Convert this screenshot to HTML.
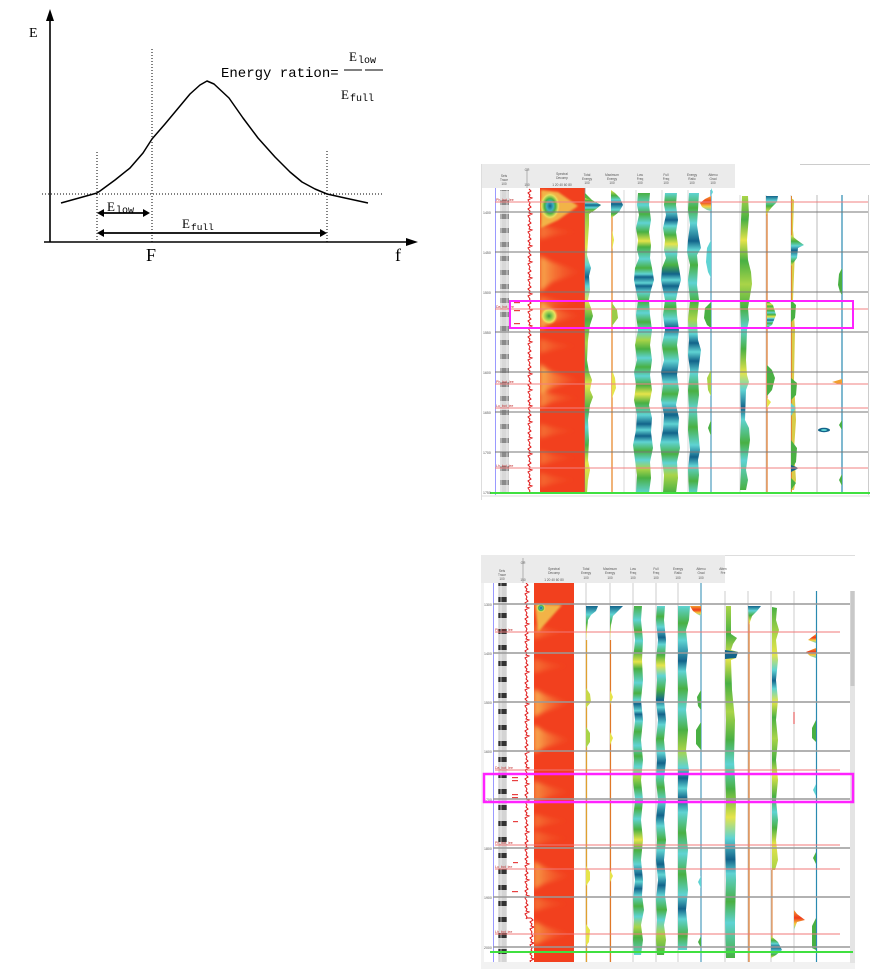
<!DOCTYPE html>
<html><head><meta charset="utf-8"><style>
html,body{margin:0;padding:0;background:#fff;}
svg{display:block;}
</style></head><body>
<svg width="874" height="969" viewBox="0 0 874 969" xmlns="http://www.w3.org/2000/svg">
<defs>
<filter id="bl" x="-20%" y="-50%" width="140%" height="200%"><feGaussianBlur stdDeviation="2"/></filter>
<filter id="bl2" x="-20%" y="-50%" width="140%" height="200%"><feGaussianBlur stdDeviation="1"/></filter>
<clipPath id="sp1"><rect x="540" y="188" width="45" height="305"/></clipPath>
<clipPath id="sp2"><rect x="534" y="583" width="40" height="379"/></clipPath>
<clipPath id="rc2"><rect x="515" y="583" width="25" height="379"/></clipPath>
<linearGradient id="streak" x1="0" y1="0" x2="1" y2="0">
<stop offset="0" stop-color="#f8d060" stop-opacity="1"/><stop offset=".35" stop-color="#f7a048" stop-opacity=".7"/><stop offset="1" stop-color="#f26030" stop-opacity="0"/>
</linearGradient>
<linearGradient id="lf" x1="0" y1="0" x2="0" y2="1">
<stop offset="0" stop-color="#49b043"/><stop offset=".04" stop-color="#5fd3d3"/><stop offset=".07" stop-color="#49b043"/><stop offset=".1" stop-color="#5fd3d3"/><stop offset=".13" stop-color="#49b043"/><stop offset=".16" stop-color="#e6e44a"/><stop offset=".18" stop-color="#49b043"/><stop offset=".22" stop-color="#5fd3d3"/><stop offset=".25" stop-color="#49b043"/><stop offset=".27" stop-color="#5fd3d3"/><stop offset=".28" stop-color="#12638a"/><stop offset=".30" stop-color="#5fd3d3"/><stop offset=".31" stop-color="#12638a"/><stop offset=".33" stop-color="#5fd3d3"/><stop offset=".36" stop-color="#49b043"/><stop offset=".4" stop-color="#5fd3d3"/><stop offset=".43" stop-color="#49b043"/><stop offset=".46" stop-color="#5fd3d3"/><stop offset=".49" stop-color="#a9d448"/><stop offset=".52" stop-color="#49b043"/><stop offset=".55" stop-color="#5fd3d3"/><stop offset=".58" stop-color="#49b043"/><stop offset=".61" stop-color="#5fd3d3"/><stop offset=".64" stop-color="#49b043"/><stop offset=".67" stop-color="#e6e44a"/><stop offset=".7" stop-color="#49b043"/><stop offset=".74" stop-color="#5fd3d3"/><stop offset=".77" stop-color="#12638a"/><stop offset=".79" stop-color="#5fd3d3"/><stop offset=".81" stop-color="#12638a"/><stop offset=".83" stop-color="#5fd3d3"/><stop offset=".86" stop-color="#49b043"/><stop offset=".89" stop-color="#5fd3d3"/><stop offset=".92" stop-color="#a9d448"/><stop offset=".95" stop-color="#49b043"/><stop offset="1" stop-color="#5fd3d3"/>
</linearGradient>
<linearGradient id="ff" x1="0" y1="0" x2="0" y2="1">
<stop offset="0" stop-color="#5fd3d3"/><stop offset=".03" stop-color="#49b043"/><stop offset=".06" stop-color="#5fd3d3"/><stop offset=".09" stop-color="#12638a"/><stop offset=".11" stop-color="#5fd3d3"/><stop offset=".14" stop-color="#49b043"/><stop offset=".17" stop-color="#e6e44a"/><stop offset=".2" stop-color="#5fd3d3"/><stop offset=".24" stop-color="#49b043"/><stop offset=".27" stop-color="#12638a"/><stop offset=".29" stop-color="#5fd3d3"/><stop offset=".31" stop-color="#12638a"/><stop offset=".34" stop-color="#5fd3d3"/><stop offset=".38" stop-color="#49b043"/><stop offset=".42" stop-color="#5fd3d3"/><stop offset=".45" stop-color="#12638a"/><stop offset=".48" stop-color="#5fd3d3"/><stop offset=".52" stop-color="#49b043"/><stop offset=".56" stop-color="#5fd3d3"/><stop offset=".6" stop-color="#12638a"/><stop offset=".63" stop-color="#5fd3d3"/><stop offset=".67" stop-color="#49b043"/><stop offset=".7" stop-color="#5fd3d3"/><stop offset=".74" stop-color="#12638a"/><stop offset=".77" stop-color="#5fd3d3"/><stop offset=".8" stop-color="#12638a"/><stop offset=".83" stop-color="#5fd3d3"/><stop offset=".87" stop-color="#49b043"/><stop offset=".9" stop-color="#5fd3d3"/><stop offset=".94" stop-color="#a9d448"/><stop offset="1" stop-color="#49b043"/>
</linearGradient>
<linearGradient id="er" x1="0" y1="0" x2="0" y2="1">
<stop offset="0" stop-color="#5fd3d3"/><stop offset=".05" stop-color="#49b043"/><stop offset=".1" stop-color="#5fd3d3"/><stop offset=".16" stop-color="#12638a"/><stop offset=".19" stop-color="#5fd3d3"/><stop offset=".24" stop-color="#49b043"/><stop offset=".3" stop-color="#5fd3d3"/><stop offset=".36" stop-color="#49b043"/><stop offset=".42" stop-color="#a9d448"/><stop offset=".47" stop-color="#5fd3d3"/><stop offset=".5" stop-color="#12638a"/><stop offset=".53" stop-color="#5fd3d3"/><stop offset=".56" stop-color="#12638a"/><stop offset=".6" stop-color="#5fd3d3"/><stop offset=".66" stop-color="#49b043"/><stop offset=".72" stop-color="#5fd3d3"/><stop offset=".78" stop-color="#49b043"/><stop offset=".84" stop-color="#5fd3d3"/><stop offset=".88" stop-color="#12638a"/><stop offset=".91" stop-color="#5fd3d3"/><stop offset=".96" stop-color="#49b043"/><stop offset="1" stop-color="#5fd3d3"/>
</linearGradient>
<linearGradient id="gy" x1="0" y1="0" x2="0" y2="1">
<stop offset="0" stop-color="#49b043"/><stop offset=".1" stop-color="#a9d448"/><stop offset=".18" stop-color="#e6e44a"/><stop offset=".24" stop-color="#5fd3d3"/><stop offset=".28" stop-color="#12638a"/><stop offset=".31" stop-color="#5fd3d3"/><stop offset=".36" stop-color="#e6e44a"/><stop offset=".42" stop-color="#49b043"/><stop offset=".5" stop-color="#a9d448"/><stop offset=".58" stop-color="#49b043"/><stop offset=".64" stop-color="#e6e44a"/><stop offset=".72" stop-color="#49b043"/><stop offset=".78" stop-color="#5fd3d3"/><stop offset=".84" stop-color="#49b043"/><stop offset=".9" stop-color="#e6e44a"/><stop offset="1" stop-color="#a9d448"/>
</linearGradient>
<linearGradient id="gy2" x1="0" y1="0" x2="0" y2="1">
<stop offset="0" stop-color="#a9d448"/><stop offset=".08" stop-color="#49b043"/><stop offset=".15" stop-color="#e6e44a"/><stop offset=".22" stop-color="#49b043"/><stop offset=".3" stop-color="#a9d448"/><stop offset=".38" stop-color="#49b043"/><stop offset=".45" stop-color="#5fd3d3"/><stop offset=".52" stop-color="#49b043"/><stop offset=".6" stop-color="#e6e44a"/><stop offset=".66" stop-color="#5fd3d3"/><stop offset=".72" stop-color="#12638a"/><stop offset=".76" stop-color="#5fd3d3"/><stop offset=".84" stop-color="#49b043"/><stop offset=".9" stop-color="#5fd3d3"/><stop offset="1" stop-color="#49b043"/>
</linearGradient>
<linearGradient id="blobB" x1="0" y1="0" x2="0" y2="1">
<stop offset="0" stop-color="#e6e44a"/><stop offset=".2" stop-color="#49b043"/><stop offset=".35" stop-color="#5fd3d3"/><stop offset=".5" stop-color="#12638a"/><stop offset=".7" stop-color="#5fd3d3"/><stop offset=".85" stop-color="#49b043"/><stop offset="1" stop-color="#e6e44a"/>
</linearGradient>
<linearGradient id="blobT" x1="0" y1="0" x2="0" y2="1">
<stop offset="0" stop-color="#12638a"/><stop offset=".25" stop-color="#5fd3d3"/><stop offset=".5" stop-color="#49b043"/><stop offset=".8" stop-color="#e6e44a"/><stop offset="1" stop-color="#f0a030"/>
</linearGradient>
<linearGradient id="blobR" x1="0" y1="0" x2="0" y2="1">
<stop offset="0" stop-color="#f0a030"/><stop offset=".4" stop-color="#f03a1c"/><stop offset=".7" stop-color="#f3d040"/><stop offset="1" stop-color="#5fd3d3"/>
</linearGradient>
<radialGradient id="nucleus" cx=".5" cy=".5" r=".5">
<stop offset="0" stop-color="#12638a"/><stop offset=".3" stop-color="#3fb0c0"/><stop offset=".5" stop-color="#49b043"/><stop offset=".75" stop-color="#e8e060"/><stop offset="1" stop-color="#f5a040" stop-opacity="0"/>
</radialGradient>
<radialGradient id="nucG" cx=".5" cy=".5" r=".5">
<stop offset="0" stop-color="#3a9a40"/><stop offset=".4" stop-color="#9ad050"/><stop offset=".7" stop-color="#f0e060"/><stop offset="1" stop-color="#f5a040" stop-opacity="0"/>
</radialGradient>
<pattern id="trc" width="9" height="14" patternUnits="userSpaceOnUse">
<rect width="9" height="14" fill="#d8d8d8"/><rect y="4" width="9" height="5" fill="#8a8a8a"/><line x1="3" y1="0" x2="3" y2="14" stroke="#f4f4f4" stroke-width="0.7"/><line x1="6" y1="0" x2="6" y2="14" stroke="#f4f4f4" stroke-width="0.7"/>
</pattern>
<pattern id="trc2" width="9" height="16" patternUnits="userSpaceOnUse">
<rect width="9" height="16" fill="#d4d4d4"/><rect y="5" width="9" height="5" fill="#333"/><line x1="3" y1="0" x2="3" y2="16" stroke="#fff" stroke-width="0.6"/><line x1="6" y1="0" x2="6" y2="16" stroke="#fff" stroke-width="0.6"/>
</pattern>
</defs>

<!-- ============ DIAGRAM ============ -->
<g fill="none" stroke="#000">
<line x1="50" y1="242" x2="50" y2="18" stroke-width="1.6"/>
<line x1="44" y1="242" x2="408" y2="242" stroke-width="1.6"/>
<polyline points="61,203 97,193 100,191 115,180 130,168 143,153 152,139 165,124 180,106 190,94 200,85 207,81 214,84 229,98 243,118 258,138 275,157 290,172 302,182 315,189 327,194 345,198 368,203" stroke-width="1.5" stroke-linejoin="round"/>
<g stroke-width="1" stroke-dasharray="1,2">
<line x1="42" y1="194" x2="382" y2="194"/>
<line x1="97" y1="152" x2="97" y2="242"/>
<line x1="152" y1="49" x2="152" y2="242"/>
<line x1="327" y1="151" x2="327" y2="242"/>
</g>
<line x1="101" y1="213" x2="145" y2="213" stroke-width="1.8"/>
<line x1="101" y1="233" x2="323" y2="233" stroke-width="1.8"/>
<line x1="344" y1="70" x2="362" y2="70" stroke-width="1"/>
<line x1="365" y1="70" x2="383" y2="70" stroke-width="1"/>
</g>
<g fill="#000">
<polygon points="50,9 46,21 54,21"/>
<polygon points="418,242 406,238 406,246"/>
<polygon points="97,213 104,209 104,217"/>
<polygon points="150,213 143,209 143,217"/>
<polygon points="97,233 104,229 104,237"/>
<polygon points="327,233 320,229 320,237"/>
</g>
<g font-family="'Liberation Serif','Noto Serif CJK SC',serif" fill="#000">
<text x="29" y="37" font-size="14">E</text>
<text x="146" y="261" font-size="18">F</text>
<text x="395" y="261" font-size="18">f</text>
<text x="107" y="211" font-size="13">E</text>
<text x="182" y="228" font-size="13">E</text>
<text x="349" y="61" font-size="13">E</text>
<text x="341" y="99" font-size="13">E</text>
</g>
<g font-family="'Liberation Mono','Noto Sans CJK SC',monospace" fill="#000">
<text x="221" y="77" font-size="14">Energy ration=</text>
<text x="116" y="213" font-size="10">low</text>
<text x="191" y="230" font-size="9.5">full</text>
<text x="358" y="63" font-size="10">low</text>
<text x="350" y="101" font-size="10">full</text>
</g>

<!-- ============ PANEL 1 ============ -->
<rect x="481" y="164" width="389" height="336" fill="#fff"/>
<rect x="481" y="164" width="254" height="24" fill="#ebebeb"/>
<line x1="800" y1="164.5" x2="870" y2="164.5" stroke="#ccc" stroke-width="1"/>
<line x1="481.5" y1="164" x2="481.5" y2="500" stroke="#ddd"/>
<line x1="868.5" y1="195" x2="868.5" y2="495" stroke="#ccc"/>
<g font-family="'Liberation Sans',sans-serif" font-size="3.2" fill="#555" text-anchor="middle">
<text x="504" y="177">Seis</text><text x="504" y="181">Trace</text><text x="504" y="185">100</text>
<text x="527" y="171">GR</text><text x="527" y="186">150</text>
<text x="562" y="175">Spectral</text><text x="562" y="179">Decomp</text><text x="562" y="186">1  20  40  60  80</text>
<text x="587" y="176">Total</text><text x="587" y="180">Energy</text><text x="587" y="184">100</text>
<text x="612" y="176">Maximum</text><text x="612" y="180">Energy</text><text x="612" y="184">100</text>
<text x="640" y="176">Low</text><text x="640" y="180">Freq</text><text x="640" y="184">100</text>
<text x="666" y="176">Full</text><text x="666" y="180">Freq</text><text x="666" y="184">100</text>
<text x="692" y="176">Energy</text><text x="692" y="180">Ratio</text><text x="692" y="184">100</text>
<text x="713" y="176">Attenu</text><text x="713" y="180">Grad</text><text x="713" y="184">100</text>
</g>
<g stroke="#d0d0d0" stroke-width="0.8">
<line x1="624" y1="190" x2="624" y2="493"/><line x1="636" y1="190" x2="636" y2="493"/><line x1="662" y1="190" x2="662" y2="493"/><line x1="688" y1="190" x2="688" y2="493"/><line x1="740" y1="195" x2="740" y2="493"/><line x1="766" y1="195" x2="766" y2="493"/><line x1="791" y1="195" x2="791" y2="493"/>
</g>
<line x1="817" y1="195" x2="817" y2="493" stroke="#bbb" stroke-width="1"/>
<line x1="495.5" y1="188" x2="495.5" y2="495" stroke="#9a9aff" stroke-width="1"/>
<rect x="500" y="190" width="9" height="303" fill="url(#trc)"/>
<path d="M529,189 l2,2 -3,2 2,2 -1,2 3,1 -4,2 2,3 -1,2 2,2 -3,2 2,2 -1,2 3,1 -4,2 2,3 -1,2 2,2 -3,2 2,2 -1,2 3,1 -4,2 2,3 -1,2 2,2 -3,2 2,2 -1,2 3,1 -4,2 2,3 -1,2 2,2 -3,2 2,2 -1,2 3,1 -4,2 2,3 -1,2 2,2 -3,2 2,2 -1,2 3,1 -4,2 2,3 -1,2 2,2 -3,2 2,2 -1,2 3,1 -4,2 2,3 -1,2 2,2 -3,2 2,2 -1,2 3,1 -4,2 2,3 -1,2 2,2 -3,2 2,2 -1,2 3,1 -4,2 2,3 -1,2 2,2 -3,2 2,2 -1,2 3,1 -4,2 2,3 -1,2 2,2 -3,2 2,2 -1,2 3,1 -4,2 2,3 -1,2 2,2 -3,2 2,2 -1,2 3,1 -4,2 2,3 -1,2 2,2 -3,2 2,2 -1,2 3,1 -4,2 2,3 -1,2 2,2 -3,2 2,2 -1,2 3,1 -4,2 2,3 -1,2 2,2 -3,2 2,2 -1,2 3,1 -4,2 2,3 -1,2 2,2 -3,2 2,2 -1,2 3,1 -4,2 2,3 -1,2 2,2 -3,2 2,2 -1,2 3,1 -4,2 2,3 -1,2 2,2 -3,2 2,2 -1,2 3,1 -4,2 2,3 -1,2 2,2 -3,2 2,2 -1,2 3,1 -4,2 2,3 -1,2" fill="none" stroke="#e01818" stroke-width="1"/>
<line x1="527" y1="170" x2="527" y2="188" stroke="#888" stroke-width="0.6"/>
<g fill="#e84040"><rect x="514" y="302" width="6" height="1.2"/><rect x="514" y="310" width="6" height="1.2"/><rect x="514" y="323" width="6" height="1.2"/></g>
<!-- spectral -->
<rect x="540" y="188" width="45" height="305" fill="#f2401e"/>
<g clip-path="url(#sp1)">
<g filter="url(#bl)" fill="url(#streak)">
<polygon points="540,256 552,262 582,272 552,282 540,292" opacity=".75"/>
<polygon points="540,296 556,300 580,304 556,306 540,310" opacity=".4"/>
<polygon points="540,302 552,308 582,316 552,322 540,330" opacity=".8"/>
<polygon points="540,364 552,372 582,380 552,388 540,394" opacity=".8"/>
<polygon points="540,390 552,394 580,398 552,402 540,408" opacity=".55"/>
<polygon points="540,225 556,229 578,232 556,235 540,239" opacity=".4"/>
<polygon points="540,339 556,343 578,346 556,349 540,353" opacity=".35"/>
<polygon points="540,424 556,428 578,431 556,434 540,438" opacity=".35"/>
<polygon points="540,451 556,455 578,458 556,461 540,465" opacity=".35"/>
<polygon points="540,473 556,477 578,480 556,483 540,487" opacity=".3"/>
</g>
<polygon points="541,190 558,192 578,206 558,220 541,228" fill="#f3c850" opacity=".85" filter="url(#bl2)"/>
<ellipse cx="550" cy="206" rx="11" ry="15" fill="url(#nucleus)"/>
<ellipse cx="549" cy="316" rx="9" ry="9" fill="url(#nucG)"/>
</g>
<!-- total energy -->
<line x1="585" y1="188" x2="585" y2="493" stroke="#888" stroke-width="0.8"/>
<path d="M585,193 L588,196 L592,200 L601,205 L595,210 L589,214 L589,225 L588,240 L587,255 L589,262 L591,268 L589,276 L590,290 L588,300 L591,308 L593,316 L590,325 L588,340 L587,360 L589,372 L592,380 L590,390 L593,397 L590,405 L588,420 L589,440 L588,460 L590,470 L588,480 L587,493 L585,493 Z" fill="url(#gy)"/>
<path d="M585,198 L593,201 L601,205 L594,210 L585,212 Z" fill="url(#blobB)"/>
<!-- max energy -->
<line x1="612" y1="215" x2="612" y2="493" stroke="#e88a30" stroke-width="1.3"/>
<path d="M611,190 L615,193 L620,198 L623,205 L619,212 L614,216 L611,218 Z" fill="url(#blobB)"/>
<path d="M612,303 L617,310 L618,318 L612,326 Z" fill="#9ccc48"/>
<path d="M612,370 L615,378 L616,388 L612,398 Z" fill="#e6e44a"/>
<path d="M612,230 L614,240 L612,250 Z" fill="#e6e44a"/>
<!-- low freq -->
<path d="M638,193 L637,205 L639,215 L636,228 L638,240 L637,250 L639,258 L635,268 L634,280 L636,290 L638,300 L636,315 L638,330 L635,345 L637,360 L634,372 L636,385 L634,400 L637,415 L636,430 L633,445 L635,460 L637,475 L636,493 L649,493 L651,478 L650,462 L653,448 L651,432 L652,418 L649,405 L652,390 L650,375 L652,360 L650,345 L652,330 L650,315 L649,300 L651,290 L654,280 L652,268 L650,258 L651,245 L649,232 L651,220 L649,205 L650,193 Z" fill="url(#lf)"/>
<!-- full freq -->
<path d="M665,193 L664,205 L666,215 L663,228 L665,240 L664,250 L666,258 L662,268 L661,280 L663,290 L665,300 L663,315 L665,330 L662,345 L664,360 L661,372 L663,385 L661,400 L664,415 L663,430 L660,445 L662,460 L664,475 L663,493 L676,493 L678,478 L677,462 L680,448 L678,432 L679,418 L676,405 L679,390 L677,375 L679,360 L677,345 L679,330 L677,315 L676,300 L678,290 L681,280 L679,268 L677,258 L678,245 L676,232 L678,220 L676,205 L677,193 Z" fill="url(#ff)"/>
<!-- energy ratio -->
<path d="M689,193 L688,210 L690,225 L688,240 L687,252 L690,265 L688,280 L690,300 L688,320 L689,340 L688,355 L690,370 L688,390 L689,410 L688,430 L690,450 L688,470 L689,493 L697,493 L699,475 L698,460 L700,450 L698,430 L697,410 L699,395 L698,375 L699,365 L701,350 L698,340 L697,320 L699,300 L697,285 L698,265 L697,255 L701,248 L699,238 L697,225 L698,210 L699,193 Z" fill="url(#er)"/>
<!-- attenuation -->
<line x1="711" y1="190" x2="711" y2="493" stroke="#2a8ab0" stroke-width="1"/>
<path d="M711,196 L705,199 L700,203 L702,207 L707,210 L711,211 Z" fill="url(#blobR)"/>
<path d="M711,188 L713,192 L711,196 Z" fill="#5fd3d3"/>
<path d="M711,240 L707,248 L706,262 L708,272 L711,278 Z" fill="#5fd3d3"/>
<path d="M711,302 L705,308 L704,318 L707,325 L711,328 Z" fill="#49b043"/>
<path d="M711,370 L707,378 L708,390 L711,396 Z" fill="#a9d448"/>
<path d="M711,420 L708,428 L711,436 Z" fill="#49b043"/>
<!-- col 7 -->
<path d="M742,196 L748,196 L749,215 L747,240 L748,260 L751,272 L752,284 L750,296 L748,308 L749,320 L747,330 L746,360 L747,375 L749,382 L746,390 L745,420 L749,428 L750,440 L748,455 L746,470 L748,480 L746,490 L740,490 L741,470 L740,440 L741,420 L740,380 L741,330 L740,300 L740,250 L741,220 Z" fill="url(#gy2)"/>
<!-- col 8 -->
<line x1="767" y1="212" x2="767" y2="493" stroke="#e07828" stroke-width="1.2"/>
<path d="M766,196 L778,196 L777,202 L772,207 L768,212 L766,216 Z" fill="url(#blobT)"/>
<path d="M767,300 L773,305 L776,315 L772,325 L767,328 Z" fill="url(#gy2)"/>
<path d="M767,365 L772,370 L775,378 L772,390 L767,396 Z" fill="#49b043"/>
<path d="M767,398 L771,402 L767,408 Z" fill="#e6e44a"/>
<!-- col 9 -->
<path d="M791,198 L794,200 L793,230 L795,250 L793,300 L795,330 L794,380 L796,420 L794,450 L796,480 L794,490 L791,490 Z" fill="#d8cc48"/>
<line x1="791.5" y1="196" x2="791.5" y2="493" stroke="#e08a30" stroke-width="1"/>
<path d="M791,235 L797,240 L804,245 L798,248 L797,258 L791,266 Z" fill="url(#blobB)"/>
<path d="M791,300 L796,305 L795,318 L791,322 Z" fill="#49b043"/>
<path d="M791,378 L797,383 L796,395 L791,400 Z" fill="#49b043"/>
<path d="M791,403 L796,408 L791,416 Z" fill="#5fd3d3"/>
<path d="M791,440 L797,448 L796,462 L791,470 Z" fill="#49b043"/>
<path d="M791,465 L799,468 L791,472 Z" fill="#12638a"/>
<path d="M791,478 L796,483 L791,490 Z" fill="#49b043"/>
<!-- col 10 -->
<ellipse cx="824" cy="430" rx="6" ry="2.2" fill="#12638a"/>
<ellipse cx="824" cy="430" rx="3" ry="1" fill="#5fd3d3"/>
<line x1="842" y1="195" x2="842" y2="493" stroke="#2a8ab0" stroke-width="1.2"/>
<path d="M842,268 L839,274 L838,285 L840,292 L842,295 Z" fill="#49b043"/>
<path d="M842,379 L832,382 L842,385 Z" fill="#f0a030"/>
<path d="M842,420 L839,425 L842,430 Z" fill="#49b043"/>
<path d="M842,474 L839,480 L842,486 Z" fill="#49b043"/>
<!-- horizontal lines -->
<g stroke="#777" stroke-width="1.1">
<line x1="495" y1="212" x2="868" y2="212"/><line x1="495" y1="252" x2="868" y2="252"/><line x1="495" y1="292" x2="868" y2="292"/><line x1="495" y1="332" x2="868" y2="332"/><line x1="495" y1="372" x2="868" y2="372"/><line x1="495" y1="412" x2="868" y2="412"/><line x1="495" y1="452" x2="868" y2="452"/>
</g>
<g stroke="#f08080" stroke-width="1">
<line x1="495" y1="202" x2="868" y2="202"/><line x1="495" y1="309" x2="868" y2="309"/><line x1="495" y1="384" x2="868" y2="384"/><line x1="495" y1="408" x2="868" y2="408"/><line x1="495" y1="468" x2="868" y2="468"/>
</g>
<line x1="490" y1="493" x2="870" y2="493" stroke="#40e040" stroke-width="2"/>
<line x1="481" y1="496" x2="870" y2="496" stroke="#ddd" stroke-width="1"/>
<g font-family="'Liberation Sans',sans-serif" font-size="3.5" fill="#555">
<text x="483" y="214">1400</text><text x="483" y="254">1450</text><text x="483" y="294">1500</text><text x="483" y="334">1550</text><text x="483" y="374">1600</text><text x="483" y="414">1650</text><text x="483" y="454">1700</text><text x="483" y="494">1750</text>
</g>
<g font-family="'Liberation Sans',sans-serif" font-size="3.5" fill="#c03030">
<text x="496" y="201">Ph_bot_lee</text><text x="496" y="308">Da_bot_lee</text><text x="496" y="383">Ph_bot_lee</text><text x="496" y="407">Lu_bot_lee</text><text x="496" y="467">Lh_bot_lee</text>
</g>
<rect x="510" y="301" width="343" height="27" fill="none" stroke="#ff22ff" stroke-width="2"/>

<!-- ============ PANEL 2 ============ -->
<rect x="481" y="555" width="374" height="414" fill="#f2f2f2"/>
<rect x="481" y="555" width="244" height="28" fill="#ebebeb"/>
<rect x="725" y="555" width="130" height="36" fill="#fff"/>
<line x1="725" y1="555.5" x2="855" y2="555.5" stroke="#ddd"/>
<rect x="484" y="583" width="366" height="379" fill="#fff"/>
<rect x="725" y="583" width="125" height="8" fill="#fff"/>
<rect x="850" y="591" width="5" height="372" fill="#e4e4e4"/>
<rect x="850.5" y="591" width="4" height="95" fill="#c8c8c8"/>
<g font-family="'Liberation Sans',sans-serif" font-size="3.2" fill="#555" text-anchor="middle">
<text x="502" y="572">Seis</text><text x="502" y="576">Trace</text><text x="502" y="580">100</text>
<text x="523" y="564">GR</text><text x="523" y="581">150</text>
<text x="554" y="570">Spectral</text><text x="554" y="574">Decomp</text><text x="554" y="581">1  20  40  60  80</text>
<text x="586" y="570">Total</text><text x="586" y="574">Energy</text><text x="586" y="579">100</text>
<text x="610" y="570">Maximum</text><text x="610" y="574">Energy</text><text x="610" y="579">100</text>
<text x="633" y="570">Low</text><text x="633" y="574">Freq</text><text x="633" y="579">100</text>
<text x="656" y="570">Full</text><text x="656" y="574">Freq</text><text x="656" y="579">100</text>
<text x="678" y="570">Energy</text><text x="678" y="574">Ratio</text><text x="678" y="579">100</text>
<text x="701" y="570">Attenu</text><text x="701" y="574">Grad</text><text x="701" y="579">100</text>
<text x="723" y="570">Atten</text><text x="723" y="574">Fre</text>
</g>
<g stroke="#c8c8c8" stroke-width="0.9">
<line x1="586" y1="583" x2="586" y2="962"/><line x1="610" y1="583" x2="610" y2="962"/><line x1="633" y1="583" x2="633" y2="962"/><line x1="656" y1="583" x2="656" y2="962"/><line x1="678" y1="583" x2="678" y2="962"/><line x1="701" y1="583" x2="701" y2="962"/><line x1="725" y1="591" x2="725" y2="962"/><line x1="748" y1="591" x2="748" y2="962"/><line x1="771" y1="591" x2="771" y2="962"/><line x1="794" y1="591" x2="794" y2="962"/>
</g>
<line x1="493.5" y1="583" x2="493.5" y2="962" stroke="#9a9aff" stroke-width="1"/>
<rect x="498" y="583" width="9" height="379" fill="url(#trc2)"/>
<g clip-path="url(#rc2)">
<path d="M526,583 l2,2 -3,2 2,2 -1,2 3,1 -4,2 2,3 -1,2 2,2 -3,2 2,2 -1,2 3,1 -4,2 2,3 -1,2 2,2 -3,2 2,2 -1,2 3,1 -4,2 2,3 -1,2 2,2 -3,2 2,2 -1,2 3,1 -4,2 2,3 -1,2 2,2 -3,2 2,2 -1,2 3,1 -4,2 2,3 -1,2 2,2 -3,2 2,2 -1,2 3,1 -4,2 2,3 -1,2 2,2 -3,2 2,2 -1,2 3,1 -4,2 2,3 -1,2 2,2 -3,2 2,2 -1,2 3,1 -4,2 2,3 -1,2 2,2 -3,2 2,2 -1,2 3,1 -4,2 2,3 -1,2 2,2 -3,2 2,2 -1,2 3,1 -4,2 2,3 -1,2 2,2 -3,2 2,2 -1,2 3,1 -4,2 2,3 -1,2 2,2 -3,2 2,2 -1,2 3,1 -4,2 2,3 -1,2 2,2 -3,2 2,2 -1,2 3,1 -4,2 2,3 -1,2 2,2 -3,2 2,2 -1,2 3,1 -4,2 2,3 -1,2 2,2 -3,2 2,2 -1,2 3,1 -4,2 2,3 -1,2 2,2 -3,2 2,2 -1,2 3,1 -4,2 2,3 -1,2 2,2 -3,2 2,2 -1,2 3,1 -4,2 2,3 -1,2 2,2 -3,2 2,2 -1,2 3,1 -4,2 2,3 -1,2 2,2 -3,2 2,2 -1,2 3,1 -4,2 2,3 -1,2 2,2 -3,2 2,2 -1,2 3,1 -4,2 2,3 -1,2 2,2 -3,2 2,2 -1,2 3,1 -4,2 2,3 -1,2" fill="none" stroke="#e01818" stroke-width="1"/>
<path d="M531,918 l2,2 -3,2 2,2 -1,2 3,1 -4,2 2,3 -1,2 2,2 -3,2 2,2 -1,2 3,1 -4,2 2,3 -1,2 2,2 -3,2 2,2 -1,2 3,1 -4,2 2,3 -1,2 2,2 -3,2 2,2 -1,2 3,1 -4,2 2,3 -1,2 2,2 -3,2 2,2 -1,2 3,1 -4,2 2,3 -1,2 2,2 -3,2 2,2 -1,2" fill="none" stroke="#e01818" stroke-width="1"/>
<line x1="526" y1="918" x2="531" y2="918" stroke="#e01818" stroke-width="1"/>
</g>
<line x1="523" y1="558" x2="523" y2="583" stroke="#888" stroke-width="0.6"/>
<g fill="#e84040"><rect x="512" y="777" width="6" height="1.2"/><rect x="512" y="780" width="6" height="1.2"/><rect x="512" y="794" width="6" height="1.2"/><rect x="512" y="797" width="6" height="1.2"/><rect x="513" y="821" width="5" height="1.2"/><rect x="513" y="862" width="5" height="1.2"/><rect x="512" y="891" width="6" height="1.2"/></g>
<!-- spectral -->
<rect x="534" y="583" width="40" height="379" fill="#f2401e"/>
<g clip-path="url(#sp2)">
<g filter="url(#bl)" fill="url(#streak)">
<polygon points="534,689 546,695 572,703 546,711 534,717" opacity=".8"/>
<polygon points="534,725 546,732 572,740 546,747 534,753" opacity=".8"/>
<polygon points="534,781 548,786 572,792 548,797 534,803" opacity=".55"/>
<polygon points="534,861 546,868 572,876 546,883 534,889" opacity=".65"/>
<polygon points="534,921 546,927 572,934 546,940 534,945" opacity=".6"/>
<polygon points="534,625 550,629 570,632 550,635 534,639" opacity=".35"/>
<polygon points="534,659 550,663 570,666 550,669 534,673" opacity=".35"/>
<polygon points="534,814 550,818 570,821 550,824 534,828" opacity=".35"/>
<polygon points="534,831 550,835 570,838 550,841 534,845" opacity=".3"/>
<polygon points="534,897 550,901 570,904 550,907 534,911" opacity=".35"/>
</g>
<polygon points="535,604 562,605 538,632" fill="#f3c850" opacity=".85" filter="url(#bl2)"/>
<ellipse cx="541" cy="608" rx="5" ry="5" fill="url(#nucleus)"/>
</g>
<!-- total energy -->
<line x1="586.5" y1="640" x2="586.5" y2="962" stroke="#e0a030" stroke-width="1.3"/>
<path d="M586,606 L598,606 L596,611 L591,615 L588,620 L587,630 L586,640 Z" fill="url(#blobT)"/>
<path d="M586,688 L590,694 L591,702 L586,708 Z" fill="#c8d848"/>
<path d="M586,727 L590,733 L590,742 L586,748 Z" fill="#a9d448"/>
<path d="M586,866 L590,872 L590,880 L586,886 Z" fill="#e6e44a"/>
<path d="M586,924 L590,930 L589,942 L586,946 Z" fill="#e6e44a"/>
<!-- max energy -->
<line x1="610.5" y1="640" x2="610.5" y2="962" stroke="#e07828" stroke-width="1.2"/>
<path d="M610,606 L623,606 L618,611 L613,616 L611,625 L610,640 Z" fill="url(#blobT)"/>
<path d="M610,690 L613,697 L610,705 Z" fill="#e6e44a"/>
<path d="M610,732 L613,738 L610,745 Z" fill="#e6e44a"/>
<path d="M610,870 L613,876 L610,882 Z" fill="#e6e44a"/>
<!-- low freq -->
<path d="M634,606 L633,620 L635,640 L633,660 L634,680 L633,700 L635,720 L633,740 L634,760 L633,780 L635,800 L633,820 L634,840 L633,860 L635,880 L633,900 L634,920 L633,940 L634,955 L641,955 L643,940 L641,925 L644,910 L642,895 L643,880 L641,860 L643,840 L641,820 L643,800 L641,780 L643,760 L641,740 L643,720 L641,700 L643,680 L642,660 L643,640 L641,620 L642,606 Z" fill="url(#lf)"/>
<!-- full freq -->
<path d="M657,606 L656,620 L658,640 L656,660 L657,680 L656,700 L658,720 L656,740 L657,760 L656,780 L658,800 L656,820 L657,840 L656,860 L658,880 L656,900 L657,920 L656,940 L657,955 L664,955 L666,940 L664,925 L667,910 L665,895 L666,880 L664,860 L666,840 L664,820 L666,800 L664,780 L666,760 L664,740 L666,720 L664,700 L666,680 L665,660 L666,640 L664,620 L665,606 Z" fill="url(#ff)"/>
<!-- energy ratio -->
<path d="M678,606 L690,606 L689,620 L686,630 L688,650 L686,670 L688,690 L686,710 L688,730 L686,750 L689,770 L687,790 L688,810 L686,830 L688,850 L686,870 L688,890 L686,910 L688,930 L687,950 L678,950 Z" fill="url(#er)"/>
<!-- attenuation -->
<line x1="701" y1="583" x2="701" y2="962" stroke="#2a8ab0" stroke-width="1"/>
<path d="M701,606 L690,606 L693,611 L697,614 L701,616 Z" fill="url(#blobR)"/>
<path d="M701,690 L697,697 L698,706 L701,710 Z" fill="#49b043"/>
<path d="M701,722 L696,730 L696,744 L701,750 Z" fill="#49b043"/>
<path d="M701,876 L698,882 L701,888 Z" fill="#5fd3d3"/>
<path d="M701,936 L698,942 L701,948 Z" fill="#49b043"/>
<!-- col 7 -->
<path d="M726,606 L731,606 L731,634 L737,638 L733,644 L731,650 L738,652 L736,658 L731,660 L732,690 L735,720 L734,760 L736,800 L735,840 L736,880 L735,920 L735,958 L726,958 L725,920 L726,880 L725,840 L726,800 L725,760 L726,720 L725,680 L726,640 Z" fill="url(#gy2)"/>
<path d="M725,650 L738,652 L736,658 L725,659 Z" fill="#12638a"/>
<!-- col 8 -->
<line x1="749" y1="612" x2="749" y2="962" stroke="#e07828" stroke-width="1.2"/>
<path d="M748,606 L761,606 L757,611 L752,616 L749,625 Z" fill="url(#blobT)"/>
<!-- col 9 -->
<path d="M772,607 L777,608 L776,620 L779,630 L776,640 L778,660 L776,680 L778,700 L776,720 L778,740 L776,760 L778,780 L776,800 L778,820 L776,840 L778,860 L775,870 L772,870 Z" fill="url(#gy)"/>
<line x1="772" y1="870" x2="772" y2="940" stroke="#e07828" stroke-width="1"/>
<path d="M771,936 L778,942 L782,950 L776,955 L771,958 Z" fill="url(#blobB)"/>
<!-- col 10 -->
<line x1="794" y1="712" x2="794" y2="724" stroke="#e04040" stroke-width="1"/>
<path d="M794,910 L797,914 L805,920 L797,922 L794,930 Z" fill="url(#blobR)"/>
<line x1="816.5" y1="591" x2="816.5" y2="962" stroke="#2a8ab0" stroke-width="1.2"/>
<path d="M816,634 L808,640 L816,643 Z" fill="url(#blobR)"/>
<path d="M816,648 L806,652 L810,656 L816,658 Z" fill="url(#blobR)"/>
<path d="M816,720 L812,728 L812,738 L816,742 Z" fill="#49b043"/>
<path d="M816,784 L813,790 L816,796 Z" fill="#5fd3d3"/>
<path d="M816,852 L813,858 L816,864 Z" fill="#49b043"/>
<path d="M816,918 L812,926 L812,948 L816,950 Z" fill="#49b043"/>
<!-- horizontal lines -->
<g stroke="#999" stroke-width="1.6">
<line x1="493" y1="604" x2="850" y2="604"/><line x1="493" y1="653" x2="850" y2="653"/><line x1="493" y1="702" x2="850" y2="702"/><line x1="493" y1="751" x2="850" y2="751"/><line x1="493" y1="799" x2="850" y2="799"/><line x1="493" y1="848" x2="850" y2="848"/><line x1="493" y1="897" x2="850" y2="897"/><line x1="493" y1="947" x2="850" y2="947"/>
</g>
<g stroke="#f07878" stroke-width="1">
<line x1="495" y1="632" x2="840" y2="632"/><line x1="495" y1="770" x2="840" y2="770"/><line x1="495" y1="845" x2="840" y2="845"/><line x1="495" y1="869" x2="840" y2="869"/><line x1="495" y1="934" x2="840" y2="934"/>
</g>
<line x1="490" y1="952" x2="853" y2="952" stroke="#40e040" stroke-width="2"/>
<g font-family="'Liberation Sans',sans-serif" font-size="3.5" fill="#555">
<text x="484" y="606">1300</text><text x="484" y="655">1400</text><text x="484" y="704">1500</text><text x="484" y="753">1600</text><text x="484" y="801">1700</text><text x="484" y="850">1800</text><text x="484" y="899">1900</text><text x="484" y="949">2000</text>
</g>
<g font-family="'Liberation Sans',sans-serif" font-size="3.5" fill="#c03030">
<text x="495" y="631">Ph_bot_lee</text><text x="495" y="769">Da_bot_lee</text><text x="495" y="844">Ph_bot_lee</text><text x="495" y="868">Lu_bot_lee</text><text x="495" y="933">Lh_bot_lee</text>
</g>
<rect x="484" y="774" width="369" height="28" fill="none" stroke="#ff22ff" stroke-width="2.5"/>
</svg>
</body></html>
